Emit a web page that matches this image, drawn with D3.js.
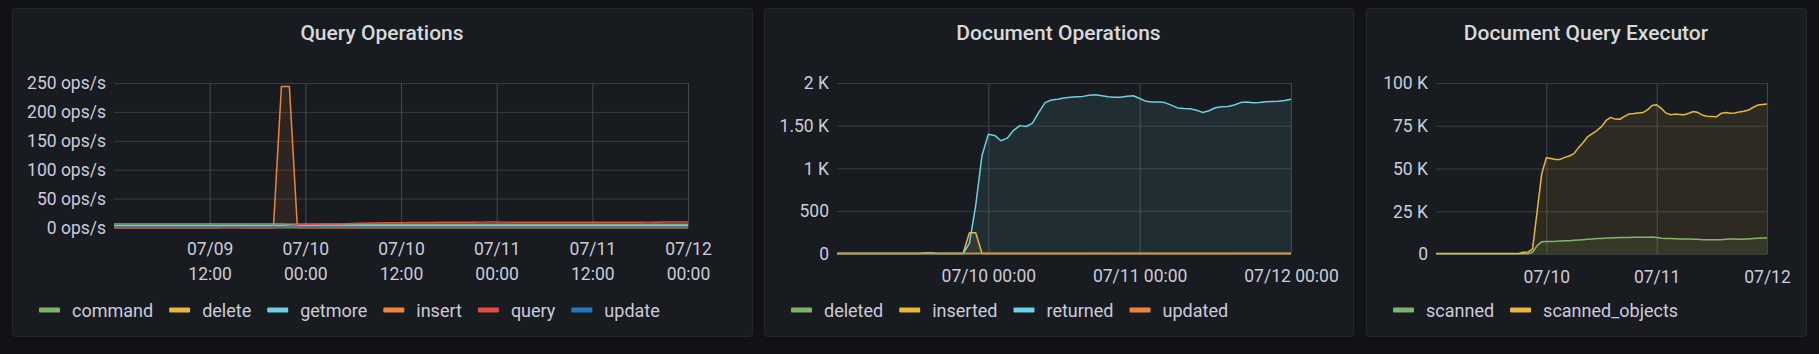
<!DOCTYPE html>
<html>
<head>
<meta charset="utf-8">
<script src="https://cdn.jsdelivr.net/npm/d3@7"></script>
<style>
  body { margin: 0; background: #111217; }
  svg { display: block; font-family: Roboto, "Noto Sans", sans-serif; }
</style>
</head>
<body>
<svg id="chart" width="1819" height="354"></svg>
<script>
// ── Data (one sample per hour, 07/09 00:00 → 07/12 00:00) ─────────────
const rangeStart = "07/09 00:00";
const rangeEnd   = "07/12 00:00";

// Query Operations (ops/s)
const qCommand = [
  5.9,5.9,5.9,5.9,5.9,5.9,5.9,5.9,5.9,5.9,5.9,5.9,
  5.9,5.9,5.9,5.9,5.9,5.9,5.9,5.9,5.9,5.9,5.8,5.6,
  5.5,5.5,5.5,5.6,5.6,5.6,5.6,5.6,5.6,5.6,5.6,5.6,
  5.6,5.6,5.6,5.6,5.6,5.6,5.6,5.6,5.6,5.6,5.6,5.6,
  5.6,5.6,5.6,5.6,5.6,5.6,5.6,5.6,5.6,5.6,5.6,5.6,
  5.6,5.6,5.6,5.6,5.6,5.6,5.6,5.6,5.6,5.6,5.6,5.6,
  5.6];
const qDelete = [
  0,0,0,0,0,0,0,0,0,0,0,0,
  0,0,0,0,0,0,0,0,0,0,0,0,
  0,0,0,0,0,0,0,0,0,0,0,0,
  0,0,0,0,0,0,0,0,0,0,0,0,
  0,0,0,0,0,0,0,0,0,0,0,0,
  0,0,0,0,0,0,0,0,0,0,0,0,
  0];
const qGetmore = [
  3.1,3.1,3.1,3.1,3.1,3.1,3.1,3.1,3.1,3.1,3.1,3.1,
  3.1,3.1,3.1,3.1,3.1,3.1,3.1,3.1,3.1,3.1,3.2,3.3,
  3.4,3.4,3.4,3.4,3.4,3.5,3.5,3.5,3.5,3.5,3.5,3.5,
  3.5,3.5,3.5,3.5,3.5,3.5,3.5,3.5,3.5,3.5,3.5,3.5,
  3.5,3.5,3.5,3.5,3.5,3.5,3.5,3.5,3.5,3.5,3.5,3.5,
  3.5,3.5,3.5,3.5,3.5,3.5,3.5,3.5,3.5,3.5,3.5,3.5,
  3.5];
const qInsert = [
  0,0,0,0,0,0,0,0,0,0,0,0,
  0,0,1.5,1.5,0,0,0,0,0,244,244,0,
  0,0,0,0,0,0,0,0,0,0,0,0,
  0,0,0,0,0,0,0,0,0,0,0,0,
  0,0,0,0,0,0,0,0,0,0,0,0,
  0,0,0,0,0,0,0,0,0,0,0,0,
  0];
const qQuery = [
  0,0,0,0,0,0,0,0,0,0,0,0,
  0,0,0,0,0,0,0,0,0,0,2.5,5.2,
  5.6,5.8,6.0,6.1,6.2,6.5,6.8,7.2,7.6,7.9,8.1,8.3,
  8.4,8.5,8.6,8.6,8.7,9.1,9.0,8.9,9.0,9.2,9.3,9.4,
  9.4,9.3,9.3,9.2,9.2,9.1,9.0,8.9,8.9,8.9,8.9,8.9,
  8.9,8.9,9.0,9.1,9.1,9.2,9.2,9.3,9.3,9.4,9.4,9.5,
  9.5];
const qUpdate = [
  0.9,0.9,0.9,0.9,0.9,0.9,0.9,0.9,0.9,0.9,0.9,0.9,
  0.9,0.9,0.9,0.9,0.9,0.9,0.9,0.9,0.9,0.9,0.9,0.9,
  0.9,0.9,0.9,0.9,0.9,0.9,0.9,0.9,0.9,0.9,0.9,0.9,
  0.9,0.9,0.9,0.9,0.9,0.9,0.9,0.9,0.9,0.9,0.9,0.9,
  0.9,0.9,0.9,0.9,0.9,0.9,0.9,0.9,0.9,0.9,0.9,0.9,
  0.9,0.9,0.9,0.9,0.9,0.9,0.9,0.9,0.9,0.9,0.9,0.9,
  0.9];

// Document Operations
const dDeleted = qDelete;
const dInserted = [
  0,0,0,0,0,0,0,0,0,0,0,0,
  0,0,0,0,0,0,0,0,0,243,243,0,
  0,0,0,0,0,0,0,0,0,0,0,0,
  0,0,0,0,0,0,0,0,0,0,0,0,
  0,0,0,0,0,0,0,0,0,0,0,0,
  0,0,0,0,0,0,0,0,0,0,0,0,
  0];
const dReturned = [
  0,0,0,0,0,0,0,0,0,0,0,0,
  0,0,8,8,0,0,0,0,0,120,565,1150,
  1400,1385,1322,1353,1445,1500,1490,1530,1655,1770,1800,1810,
  1825,1833,1838,1843,1855,1862,1850,1838,1832,1833,1845,1850,
  1818,1785,1776,1778,1770,1740,1708,1701,1698,1680,1655,1675,
  1710,1721,1725,1742,1770,1776,1768,1770,1780,1784,1786,1795,
  1810];
const dUpdated = qDelete;

// Document Query Executor (thousands)
const eScanned = [
  0.1,0.1,0.1,0.1,0.1,0.1,0.1,0.1,0.1,0.1,0.1,0.1,
  0.1,0.1,0.1,0.1,0.1,0.1,0.1,0.1,0.1,1.0,4.9,7.2,
  7.3,7.3,7.4,7.6,7.7,7.8,8.0,8.2,8.4,8.6,8.8,9.0,
  9.1,9.3,9.4,9.5,9.6,9.6,9.7,9.8,9.8,9.8,9.8,10.0,
  9.7,9.2,9.1,9.0,8.9,8.8,8.7,8.7,8.6,8.6,8.4,8.3,
  8.4,8.4,8.4,8.6,8.8,8.7,8.6,8.7,8.8,9.0,9.2,9.3,
  9.4];
const eScannedObjects = [
  0.3,0.3,0.3,0.3,0.3,0.3,0.3,0.3,0.3,0.3,0.3,0.3,
  0.3,0.3,0.3,0.3,0.3,0.3,0.3,1.0,1.1,2.9,25,47,
  56.3,55.8,55.3,55.3,56.5,57.3,58.7,62.2,65.2,68.6,70.4,72.2,
  74.5,78.1,79.9,78.9,78.8,80.5,81.9,82.1,82.4,82.7,84.3,86.8,
  87.3,85.2,82.5,81.4,81.8,81.6,81.4,82.3,83.3,82.7,81.2,80.6,
  80.4,80.2,82.2,82.8,82.3,82.4,83.1,83.5,84.2,85.8,87.1,87.4,
  87.7];

// Axis ticks
const p1YTicks = [0, 50, 100, 150, 200, 250];
const p1YLabels = ["0 ops/s", "50 ops/s", "100 ops/s", "150 ops/s", "200 ops/s", "250 ops/s"];
const p1XTicks = ["07/09 12:00", "07/10 00:00", "07/10 12:00", "07/11 00:00", "07/11 12:00", "07/12 00:00"];
const p2YTicks = [0, 500, 1000, 1500, 2000];
const p2YLabels = ["0", "500", "1 K", "1.50 K", "2 K"];
const p2XTicks = ["07/10 00:00", "07/11 00:00", "07/12 00:00"];
const p3YTicks = [0, 25, 50, 75, 100];
const p3YLabels = ["0", "25 K", "50 K", "75 K", "100 K"];
const p3XTicks = ["07/10 00:00", "07/11 00:00", "07/12 00:00"];

// ── Setup ───────────────────────────────────────────────
const parseTime = d3.timeParse("%m/%d %H:%M");
const t0 = parseTime(rangeStart);
const t1 = parseTime(rangeEnd);
const times = qCommand.map((_, i) => d3.timeHour.offset(t0, i));

const colors = {
  green: '#7eb26d', yellow: '#eab839', cyan: '#6ed0e0',
  orange: '#ef843c', red: '#e24d42', blue: '#1f78c1'
};

const panels = [
  {
    title: 'Query Operations',
    box: { x: 12, w: 740 },
    plot: { left: 114, right: 688, top: 83, bottom: 227.5 },
    yMax: 250, yTicks: p1YTicks, yLabels: p1YLabels,
    xTicks: p1XTicks, xLines: ["%m/%d", "%H:%M"],
    series: [
      { name: 'command', color: colors.green,  values: qCommand },
      { name: 'delete',  color: colors.yellow, values: qDelete },
      { name: 'getmore', color: colors.cyan,   values: qGetmore },
      { name: 'insert',  color: colors.orange, values: qInsert },
      { name: 'query',   color: colors.red,    values: qQuery },
      { name: 'update',  color: colors.blue,   values: qUpdate }
    ]
  },
  {
    title: 'Document Operations',
    box: { x: 764, w: 589 },
    plot: { left: 837, right: 1291, top: 83, bottom: 253.5 },
    yMax: 2000, yTicks: p2YTicks, yLabels: p2YLabels,
    xTicks: p2XTicks, xLines: ["%m/%d %H:%M"],
    series: [
      { name: 'deleted',  color: colors.green,  values: dDeleted },
      { name: 'inserted', color: colors.yellow, values: dInserted },
      { name: 'returned', color: colors.cyan,   values: dReturned },
      { name: 'updated',  color: colors.orange, values: dUpdated }
    ]
  },
  {
    title: 'Document Query Executor',
    box: { x: 1366, w: 440 },
    plot: { left: 1436, right: 1767, top: 83, bottom: 254 },
    yMax: 100, yTicks: p3YTicks, yLabels: p3YLabels,
    xTicks: p3XTicks, xLines: ["%m/%d"],
    series: [
      { name: 'scanned',         color: colors.green,  values: eScanned },
      { name: 'scanned_objects', color: colors.yellow, values: eScannedObjects }
    ]
  }
];

const svg = d3.select('#chart');

panels.forEach(p => drawPanel(p));

function drawPanel(p) {
  const g = svg.append('g');
  const { left, right, top, bottom } = p.plot;

  // Panel frame
  g.append('rect')
    .attr('x', p.box.x + 0.5).attr('y', 8.5)
    .attr('width', p.box.w).attr('height', 328)
    .attr('rx', 3)
    .attr('fill', '#181b1f')
    .attr('stroke', '#24272c');

  g.append('text')
    .attr('x', p.box.x + p.box.w / 2)
    .attr('y', 40)
    .attr('text-anchor', 'middle')
    .attr('fill', '#d8d9da')
    .style('font-size', '21px')
    .style('font-weight', 500)
    .text(p.title);

  const x = d3.scaleTime().domain([t0, t1]).range([left, right]);
  const y = d3.scaleLinear().domain([0, p.yMax]).range([bottom, top]);

  // ── Y axis + horizontal grid ──
  const yAxis = g.append('g')
    .attr('transform', `translate(${left},0)`)
    .call(d3.axisLeft(y)
      .tickValues(p.yTicks)
      .tickSize(-(right - left))
      .tickPadding(8)
      .tickFormat((d, i) => p.yLabels[i]));
  yAxis.select('.domain').remove();
  yAxis.selectAll('line').attr('stroke', '#393c41');
  yAxis.selectAll('text')
    .attr('fill', '#ccccdc')
    .attr('dy', '0.34em')
    .style('font-size', '17.5px')
    .style('font-family', 'Roboto, "Noto Sans", sans-serif');

  // ── X axis + vertical grid ──
  const xTickDates = p.xTicks.map(parseTime);
  const xAxis = g.append('g')
    .attr('transform', `translate(0,${bottom})`)
    .call(d3.axisBottom(x)
      .tickValues(xTickDates)
      .tickSize(-(bottom - top))
      .tickFormat(''));
  xAxis.select('.domain').remove();
  xAxis.selectAll('line').attr('stroke', '#43464b');
  xAxis.selectAll('.tick text').each(function (d) {
    const t = d3.select(this)
      .attr('y', null).attr('dy', null)
      .attr('fill', '#ccccdc')
      .style('font-size', '17.5px')
      .style('font-family', 'Roboto, "Noto Sans", sans-serif');
    const firstBaseline = p.xLines.length > 1 ? 27.5 : 28.5;
    p.xLines.forEach((fmt, i) => {
      t.append('tspan')
        .attr('x', 0)
        .attr('y', firstBaseline + i * 25)
        .text(d3.timeFormat(fmt)(d));
    });
  });

  // ── Series ──
  const area = d3.area()
    .x((d, i) => x(times[i]))
    .y0(y(0))
    .y1(d => y(d));
  const line = d3.line()
    .x((d, i) => x(times[i]))
    .y(d => y(d));

  const seriesG = g.append('g');
  p.series.forEach(s => {
    seriesG.append('path')
      .datum(s.values)
      .attr('d', area)
      .attr('fill', s.color)
      .attr('fill-opacity', 0.1);
    seriesG.append('path')
      .datum(s.values)
      .attr('d', line)
      .attr('fill', 'none')
      .attr('stroke', s.color)
      .attr('stroke-width', 1.5)
      .attr('stroke-linejoin', 'round');
  });

  // ── Legend ──
  const legend = g.append('g');
  let lx = p.box.x + 27;
  p.series.forEach(s => {
    legend.append('rect')
      .attr('x', lx).attr('y', 307.5)
      .attr('width', 21).attr('height', 5)
      .attr('rx', 1)
      .attr('fill', s.color);
    const txt = legend.append('text')
      .attr('x', lx + 33).attr('y', 317)
      .attr('fill', '#ccccdc')
      .style('font-size', '18px')
      .text(s.name);
    lx += 33 + txt.node().getComputedTextLength() + 16;
  });
}
</script>
</body>
</html>
